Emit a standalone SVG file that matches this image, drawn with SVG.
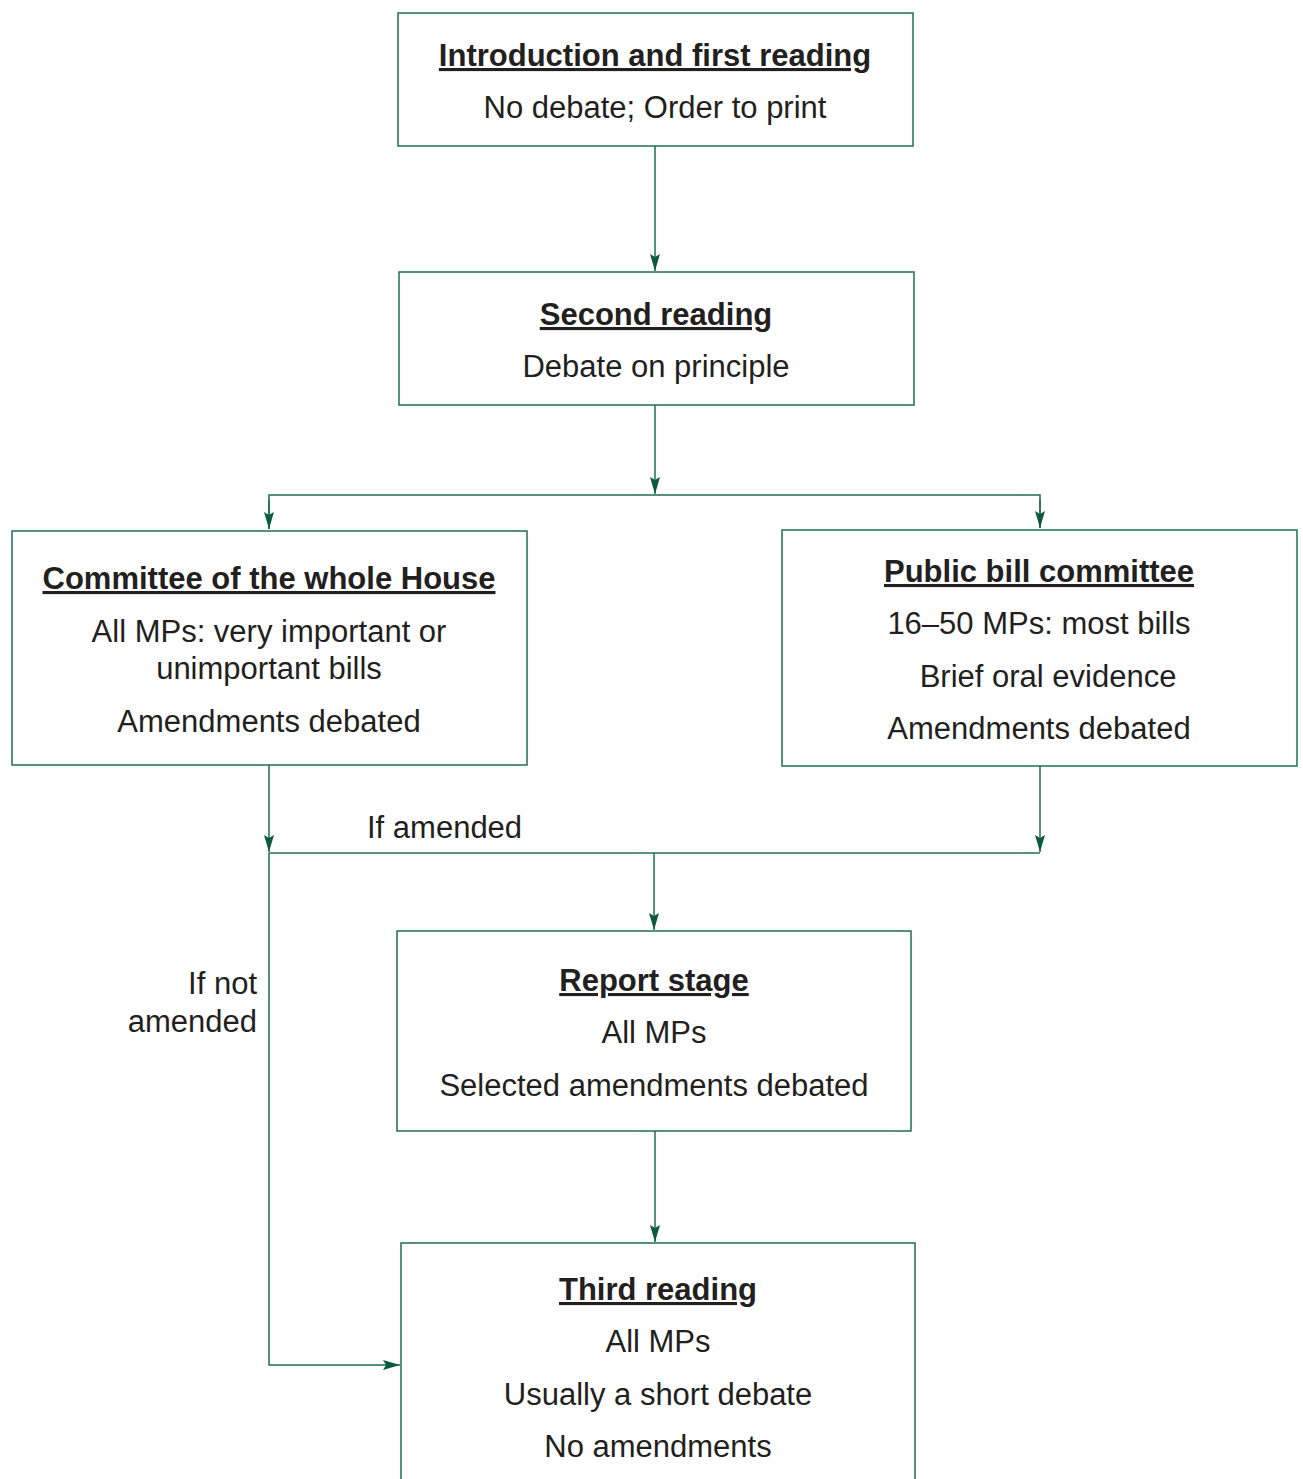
<svg xmlns="http://www.w3.org/2000/svg" width="1303" height="1479" viewBox="0 0 1303 1479">
<style>
.box{fill:#fff;stroke:#1f6e54;stroke-width:1.5}
.t{font-family:"Liberation Sans",Arial,sans-serif;font-size:31px;fill:#231f20;text-anchor:middle}
.h{font-weight:bold;text-decoration:underline}
.c{fill:none;stroke:#1f6e54;stroke-width:1.5}
</style>
<defs>
<marker id="a" markerUnits="userSpaceOnUse" markerWidth="18" markerHeight="12" viewBox="0 0 18 12" refX="17" refY="6" orient="auto">
<path d="M0,1 L17,6 L0,11 L3,6 Z" fill="#0b5a3e"/>
</marker>
</defs>
<rect width="1303" height="1479" fill="#fff"/>
<g id="connectors">
<path class="c" d="M655,146 V271" marker-end="url(#a)"/>
<path class="c" d="M655,405 V494" marker-end="url(#a)"/>
<path class="c" d="M269,529 V495 H1040 V528"/>
<path class="c" d="M269,500 V529" marker-end="url(#a)"/>
<path class="c" d="M1040,500 V528" marker-end="url(#a)"/>
<path class="c" d="M269,765 V852" marker-end="url(#a)"/>
<path class="c" d="M1040,766 V852" marker-end="url(#a)"/>
<path class="c" d="M269,853 H1040"/>
<path class="c" d="M654,853 V930" marker-end="url(#a)"/>
<path class="c" d="M269,853 V1365 H400" marker-end="url(#a)"/>
<path class="c" d="M655,1131 V1242" marker-end="url(#a)"/>
<text class="t" x="367" y="838" style="text-anchor:start">If amended</text>
<text class="t" x="257" y="994" style="text-anchor:end">If not</text>
<text class="t" x="257" y="1032" style="text-anchor:end">amended</text>
</g>
<g id="n1">
<rect class="box" x="398" y="13" width="515" height="133"/>
<text class="t h" x="655" y="66">Introduction and first reading</text>
<text class="t" x="655" y="118">No debate; Order to print</text>
</g>
<g id="n2">
<rect class="box" x="399" y="272" width="515" height="133"/>
<text class="t h" x="656" y="325">Second reading</text>
<text class="t" x="656" y="377">Debate on principle</text>
</g>
<g id="n3">
<rect class="box" x="12" y="531" width="515" height="234"/>
<text class="t h" x="269" y="589">Committee of the whole House</text>
<text class="t" x="269" y="642">All MPs: very important or</text>
<text class="t" x="269" y="679">unimportant bills</text>
<text class="t" x="269" y="732">Amendments debated</text>
</g>
<g id="n4">
<rect class="box" x="782" y="530" width="515" height="236"/>
<text class="t h" x="1039" y="582">Public bill committee</text>
<text class="t" x="1039" y="634">16–50 MPs: most bills</text>
<text class="t" x="1048" y="687">Brief oral evidence</text>
<text class="t" x="1039" y="739">Amendments debated</text>
</g>
<g id="n5">
<rect class="box" x="397" y="931" width="514" height="200"/>
<text class="t h" x="654" y="991">Report stage</text>
<text class="t" x="654" y="1043">All MPs</text>
<text class="t" x="654" y="1096">Selected amendments debated</text>
</g>
<g id="n6">
<rect class="box" x="401" y="1243" width="514" height="260"/>
<text class="t h" x="658" y="1300">Third reading</text>
<text class="t" x="658" y="1352">All MPs</text>
<text class="t" x="658" y="1405">Usually a short debate</text>
<text class="t" x="658" y="1457">No amendments</text>
</g>
</svg>
